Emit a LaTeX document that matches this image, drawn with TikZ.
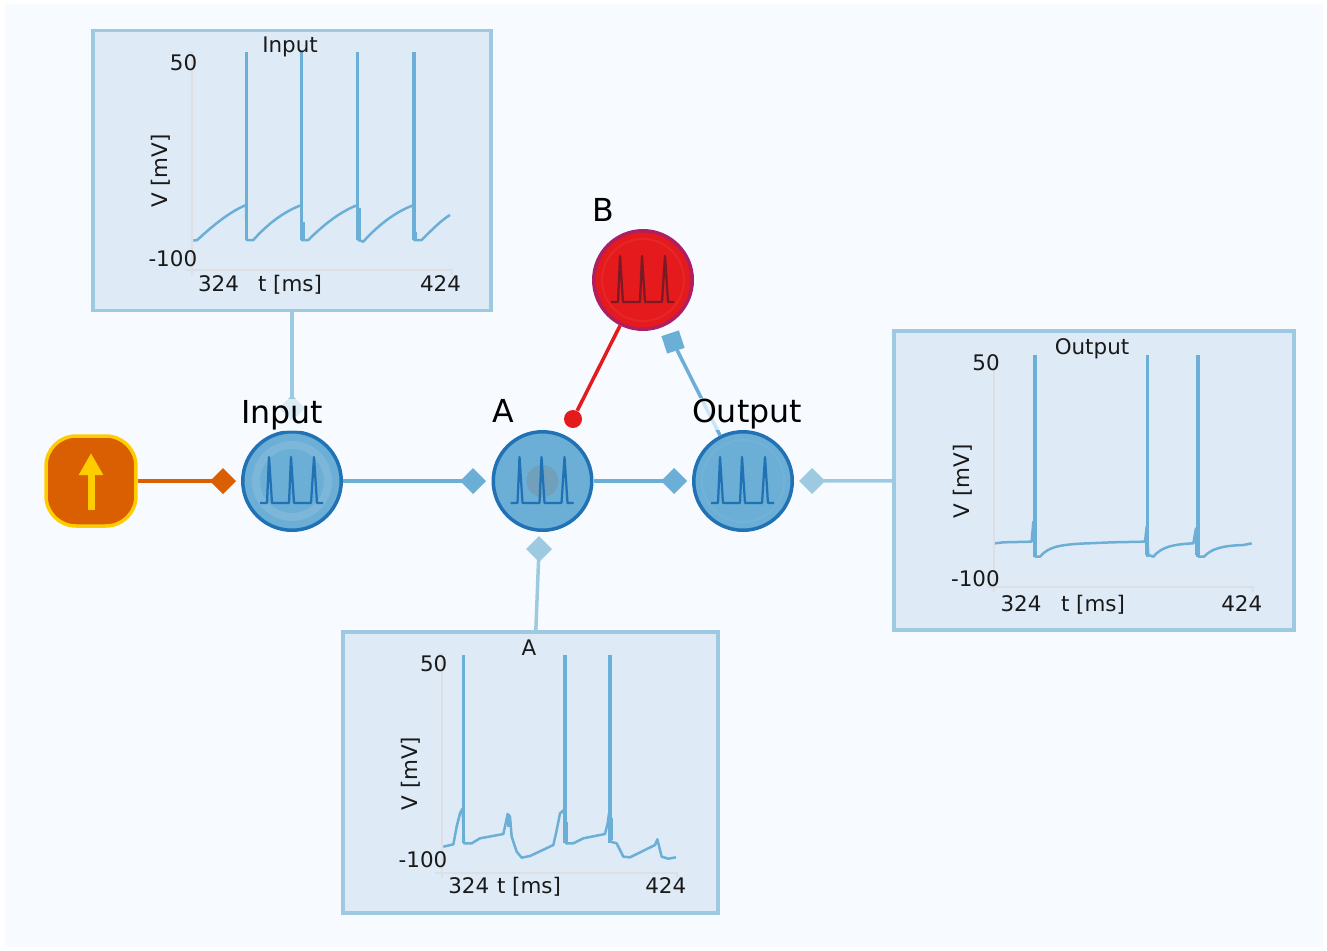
\documentclass[tikz,border=0pt]{standalone}
\usepackage{fontspec}
\setmainfont{DejaVu Sans}
\usetikzlibrary{arrows.meta,shapes.geometric}

\definecolor{pagebg}{HTML}{F7FBFF}
\definecolor{boxfill}{HTML}{DEEBF7}
\definecolor{palec}{HTML}{9ECAE1}
\definecolor{midc}{HTML}{6BAED6}
\definecolor{darkc}{HTML}{2171B5}
\definecolor{redc}{HTML}{E41A1C}
\definecolor{redrim}{HTML}{AE1E62}
\definecolor{redglyph}{HTML}{7A1A24}
\definecolor{stimc}{HTML}{D95F02}
\definecolor{goldc}{HTML}{FFCC00}
\definecolor{axisc}{HTML}{DCE0E4}

\tikzset{
    neuron/.style={circle, draw=darkc, fill=midc, line width=0.07cm, minimum size=1.97cm, inner sep=0pt},
    plotbox/.style={rectangle, draw=palec, fill=boxfill, line width=0.07cm, inner sep=0pt},
    pulse/.style={diamond, fill=midc, minimum width=0.52cm, minimum height=0.52cm, inner sep=0pt, outer sep=0pt},
    palepulse/.style={pulse, fill=palec},
    link/.style={draw=midc, line width=0.08cm, shorten >=-0.1cm},
    palelink/.style={draw=palec, line width=0.07cm, shorten >=-0.1cm},
    trace/.style={draw=midc, line width=0.05cm, line join=round},
    spike/.style={draw=midc, line width=0.065cm},
    axisline/.style={draw=axisc, line width=0.04cm},
    glyph/.style={line width=0.045cm, line join=round},
    bigtext/.style={font=\fontsize{18}{20}\selectfont, fill=pagebg, fill opacity=0.7, text opacity=1, inner sep=0.02cm, anchor=base},
    ticktext/.style={font=\fontsize{12.2}{14}\selectfont, text=black!90, inner sep=0pt, anchor=base},
}

\begin{document}
\begin{tikzpicture}[x=0.02cm, y=-0.02cm]
    \useasboundingbox (0,0) rectangle (1327,950);
    \fill[pagebg] (5,4) rectangle (1323,947);

    % Neurons
    \node[neuron] (input) at (292,481) {};
    \node[neuron] (a) at (542.5,481) {};
    \node[neuron] (output) at (743,481) {};
    \node[neuron, draw=redrim, fill=redc] (b) at (643,280) {};
    \fill[white, opacity=0.12, even odd rule] (292,481) circle[radius=40] (292,481) circle[radius=32];
    \fill[gray, opacity=0.3] (542.5,481) circle[radius=16];
    \draw[white, opacity=0.06, line width=0.04cm] (743,481) circle[radius=41];
    \draw[white, opacity=0.06, line width=0.04cm] (643,280) circle[radius=41];
    \foreach \n/\col in {input/darkc, a/darkc, output/darkc, b/redglyph} {
        \begin{scope}[shift={(\n)}]
            \draw[glyph, draw=\col] (-32,22) -- (-25,22) -- (-23,-24) -- (-20,22) -- (-3,22) -- (-1,-24) -- (2,22) -- (19,22) -- (22,-24) -- (25,22) -- (31,22);
        \end{scope}
    }

    % Stimulus
    \node[rectangle, rounded corners=0.6cm, draw=goldc, fill=stimc, line width=0.07cm, minimum size=1.8cm, inner sep=0pt] (stim) at (91,481) {};
    \draw[goldc, line width=0.14cm, -{Triangle[length=0.44cm, width=0.46cm]}] (91,510) -- (91,453);

    % Synapses and electrodes
    \node[pulse, fill=stimc] (pulsestim) at (223,481) {};
    \node[pulse] (pulseinput) at (473,481) {};
    \node[pulse] (pulsea) at (674,481) {};
    \node[pulse, rotate=63] (pulseoutput) at (673,342) {};
    \node[circle, fill=redc, minimum size=0.36cm, inner sep=0pt] (dotb) at (573,419) {};
    \node[palepulse] (probeinput) at (292,408) {};
    \node[palepulse] (probea) at (539,549) {};
    \node[palepulse] (probeoutput) at (812,481) {};

    % Plot boxes
    \node[plotbox, minimum width=7.96cm, minimum height=5.6cm] (boxInput) at (292,170.5) {};
    \node[plotbox, minimum width=7.5cm, minimum height=5.62cm] (boxA) at (530.3,772.5) {};
    \node[plotbox, minimum width=8cm, minimum height=5.98cm] (boxOutput) at (1094,480.5) {};

    % Connectors
    \draw[link, draw=stimc] (stim) -- (pulsestim);
    \draw[link] (input) -- (pulseinput);
    \draw[link] (a) -- (pulsea);
    \draw[link, line width=0.07cm] (output) -- (pulseoutput);
    \draw[redc, line width=0.07cm] (b) -- (dotb);
    \draw[palelink] (boxInput) -- (probeinput);
    \draw[palelink] (boxA) -- (probea);
    \draw[palelink] (boxOutput) -- (probeoutput);

    % Input trace
    \begin{scope}[shift={(90,20)}, scale=0.33333]
        \draw[trace] (310,662) -- (322,660) .. controls (370,615) and (420,575) .. (468,555) -- (470,660) -- (490,660) .. controls (530,615) and (580,575) .. (635,555) -- (635,660) -- (655,660) .. controls (700,615) and (750,575) .. (803,555) -- (805,660) -- (820,665) .. controls (860,620) and (915,575) .. (972,555) -- (972,660) -- (995,660) .. controls (1030,625) and (1055,600) .. (1080,585);
        \foreach \x in {470,635,803,972} {
            \draw[spike] (\x,97) -- (\x,660);
        }
        \draw[spike] (639,605) -- (639,660);
        \draw[spike] (808,565) -- (808,660);
        \draw[spike] (976,635) -- (976,660);
    \end{scope}

    % A trace
    \begin{scope}[shift={(340,630)}, scale=0.33333]
        \draw[trace] (310,650) -- (340,643) -- (350,590) -- (360,550) -- (368,535) -- (372,640) -- (395,640) -- (420,625) -- (490,612) -- (497,580) -- (503,552) -- (510,560) -- (515,620) -- (530,665) -- (545,683) -- (570,678) -- (640,645) -- (648,610) -- (660,550) -- (672,540) -- (678,640) -- (700,640) -- (730,625) -- (795,612) -- (803,580) -- (807,550) -- (812,635) -- (830,640) -- (850,680) -- (870,682) -- (945,645) -- (952,628) -- (965,680) -- (985,686) -- (1008,682);
        \foreach \x in {370,675,810} {
            \draw[spike] (\x,75) -- (\x,640);
        }
        \draw[spike] (505,552) -- (505,590);
        \draw[spike] (680,575) -- (680,640);
        \draw[spike] (815,565) -- (815,630);
    \end{scope}

    % Output trace
    \begin{scope}[shift={(890,325)}, scale=0.33333]
        \draw[trace] (315,655) -- (340,652) -- (425,650) -- (430,590) -- (436,695) -- (450,695) .. controls (475,665) and (510,660) .. (570,656) -- (665,652) -- (765,650) -- (770,605) -- (775,690) -- (790,695) .. controls (815,665) and (850,658) .. (910,655) -- (918,610) -- (926,695) -- (942,695) .. controls (965,670) and (1000,662) .. (1060,660) -- (1085,655);
        \foreach \x in {435,773,924} {
            \draw[spike] (\x,90) -- (\x,695);
        }
        \draw[spike] (431,590) -- (431,650);
        \draw[spike] (770,630) -- (770,690);
        \draw[spike] (920,610) -- (920,690);
    \end{scope}

    % Axes and their labels
    \foreach \name/\ox/\oy/\rx/\ty/\mx/\tlx/\tly/\fy/\ly/\xy in {Input/191.5/270/451.5/52/290/290/52.3/70/266/291.7, A/441.7/873/676.7/654/529/529/655/671.7/867/893, Output/994/587.3/1252.7/355/1093/1092/354/370.7/586/611} {
        \draw[axisline] (\ox-3,\ty) -- (\ox,\ty) -- (\ox,\oy+5);
        \draw[axisline] (\ox-7,\oy) -- (\rx,\oy) -- (\rx,\oy+5);
        \node[ticktext] (title\name) at (\tlx,\tly) {\name};
        \node[ticktext, anchor=base east] (top\name) at (\ox+6,\fy) {50};
        \node[ticktext, anchor=base east] (low\name) at (\ox+6,\ly) {-100};
        \node[ticktext] (start\name) at (\ox+27,\xy) {324};
        \node[ticktext] (time\name) at (\mx,\xy) {t [ms]};
        \node[ticktext] (end\name) at (\rx-11,\xy) {424};
        \node[ticktext, rotate=90, anchor=center] (volt\name) at (\ox-31,{(\ty+\oy)/2+10}) {V [mV]};
    }

    % Neuron labels
    \node[bigtext] (labelinput) at (282,423) {Input};
    \node[bigtext] (labela) at (503,422) {A};
    \node[bigtext] (labeloutput) at (747,422) {Output};
    \node[bigtext] (labelb) at (603,221) {B};
\end{tikzpicture}
\end{document}
